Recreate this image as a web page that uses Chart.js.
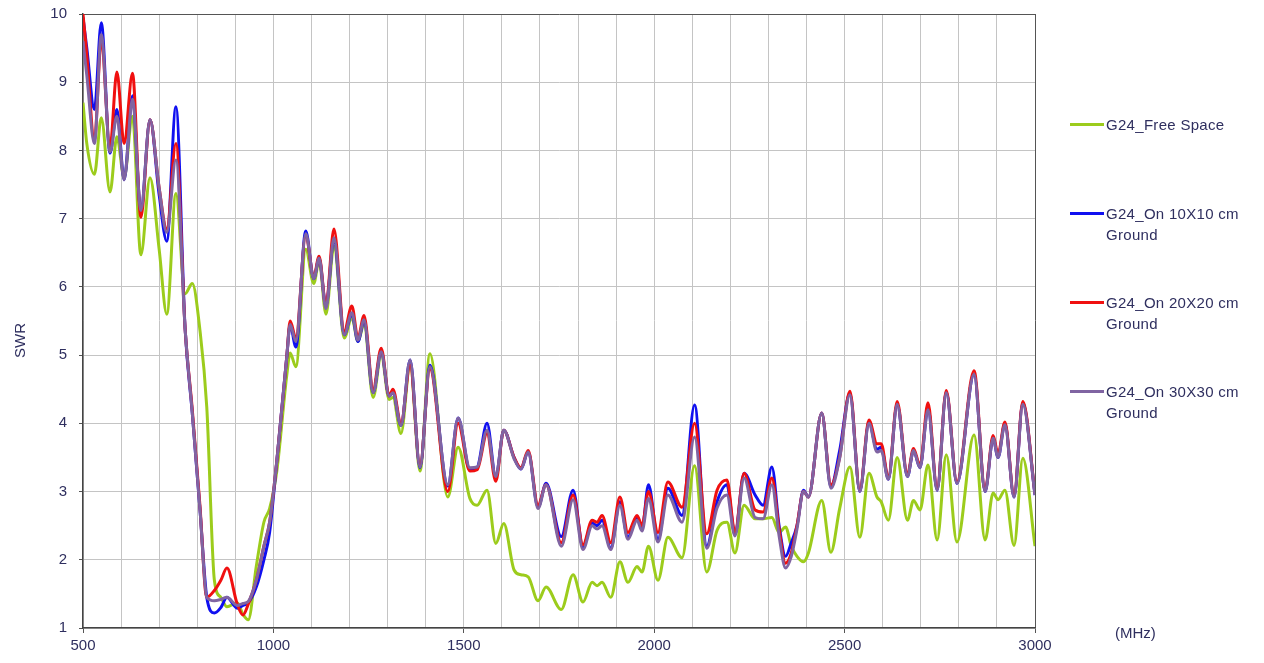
<!DOCTYPE html>
<html>
<head>
<meta charset="utf-8">
<script src="https://cdn.jsdelivr.net/npm/chart.js@4.4.1/dist/chart.umd.min.js"></script>
<style>
  body { margin: 0; background: #fff; font-family: "Liberation Sans", Arial, sans-serif; }
  #wrap { position: relative; width: 1264px; height: 663px; }
  .lbl { position: absolute; color: #2f2f5f; font-size: 15px; white-space: nowrap; }
  .leg { position: absolute; left: 1070px; width: 220px; }
  .leg i { position: absolute; left: 0; top: 9px; width: 34px; height: 3px; }
  .leg span { position: absolute; left: 36px; top: 0; line-height: 21px; color: #2f2f5f; font-size: 15px; letter-spacing: 0.3px; white-space: nowrap; }
</style>
</head>
<body>
<div id="wrap">
  <canvas id="swrChart" width="1264" height="663"></canvas>
  <div class="lbl" style="left:2px; top:332px; transform: rotate(-90deg);">SWR</div>
  <div class="lbl" style="left:1115px; top:624px;">(MHz)</div>
  <div id="legend"></div>
</div>
<script>
// frequency points (MHz) picked at peaks / troughs of the traces
const freqMHz = [
  500, 510, 530, 548, 571, 589, 608, 630, 652, 676,
  700, 720, 744, 768, 787, 807, 825, 845, 862, 878,
  905, 920, 934, 955, 975, 990, 1009, 1035, 1044, 1059,
  1085, 1106, 1120, 1138, 1159, 1186, 1206, 1222, 1238, 1262,
  1283, 1304, 1314, 1335, 1359, 1385, 1411, 1458, 1485, 1516,
  1535, 1561, 1584, 1605, 1632, 1650, 1669, 1695, 1716, 1756,
  1787, 1813, 1837, 1850, 1863, 1886, 1910, 1931, 1955,
  1968, 1985, 2010, 2036, 2073, 2106, 2138, 2165, 2191, 2212,
  2236, 2265, 2286, 2309, 2328, 2345, 2360, 2375, 2392, 2405,
  2440, 2464, 2487, 2514, 2540, 2564, 2585, 2596, 2615, 2638,
  2665, 2681, 2698, 2719, 2743, 2767, 2795, 2840, 2869, 2890,
  2903, 2921, 2945, 2968, 3000
];

const swrFreeSpace = [
  8.7, 8.1, 7.65, 8.48, 7.39, 8.2, 7.6, 8.5, 6.47, 7.6,
  6.55, 5.6, 7.37, 5.9, 6.05, 5.37, 4.24, 1.7, 1.45, 1.31,
  1.37, 1.2, 1.12, 1.9, 2.55, 2.75, 3.3, 4.7, 5.03, 4.83,
  6.55, 6.05, 6.38, 5.6, 6.6, 5.25, 5.55, 5.2, 5.45, 4.38,
  5.0, 4.35, 4.38, 3.85, 4.85, 3.3, 5.02, 2.92, 3.65, 2.9,
  2.8, 3.02, 2.24, 2.53, 1.85, 1.78, 1.75, 1.4, 1.6, 1.27,
  1.78, 1.38, 1.67, 1.62, 1.67, 1.45, 1.97, 1.67, 1.9,
  1.82, 2.2, 1.7, 2.33, 2.03, 3.38, 1.82, 2.43, 2.55, 2.1,
  2.8, 2.6, 2.6, 2.62, 2.4, 2.48, 2.2, 2.05, 1.97, 2.1,
  2.87, 2.11, 2.75, 3.36, 2.33, 3.27, 2.92, 2.85, 2.58, 3.5,
  2.58, 2.87, 2.73, 3.39, 2.29, 3.54, 2.26, 3.83, 2.29, 2.98,
  2.88, 3.02, 2.21, 3.49, 2.2
];

const swr10x10 = [
  9.95, 9.5, 8.6, 9.87, 7.96, 8.6, 7.57, 8.8, 7.12, 8.45,
  7.35, 6.67, 8.64, 5.4, 4.15, 2.75, 1.45, 1.22, 1.3, 1.45,
  1.29, 1.33, 1.37, 1.6, 2.0, 2.4, 3.45, 4.97, 5.45, 5.12,
  6.82, 6.12, 6.42, 5.72, 6.7, 5.3, 5.6, 5.2, 5.5, 4.45,
  5.05, 4.4, 4.45, 3.97, 4.93, 3.35, 4.85, 3.08, 4.08, 3.32,
  3.35, 4.0, 3.21, 3.9, 3.5, 3.33, 3.58, 2.77, 3.12, 2.34,
  3.02, 2.19, 2.54, 2.5, 2.58, 2.17, 2.85, 2.33, 2.63,
  2.45, 3.1, 2.3, 3.05, 2.65, 4.27, 2.2, 2.85, 3.1, 2.37,
  3.27, 2.95, 2.8, 3.36, 2.5, 2.05, 2.25, 2.5, 3.02, 2.92,
  4.15, 3.07, 3.6, 4.44, 3.0, 4.02, 3.62, 3.65, 3.18, 4.28,
  3.22, 3.6, 3.35, 4.22, 3.02, 4.46, 3.12, 4.72, 3.0, 3.78,
  3.5, 4.0, 2.92, 4.3, 2.95
];

const swr20x20 = [
  10.0, 9.4, 8.15, 9.6, 8.05, 9.15, 8.1, 9.13, 7.02, 8.45,
  7.45, 6.85, 8.1, 5.4, 4.2, 2.8, 1.45, 1.55, 1.7, 1.88,
  1.35, 1.19, 1.35, 1.7, 2.2, 2.55, 3.45, 4.97, 5.5, 5.25,
  6.75, 6.15, 6.45, 5.72, 6.85, 5.35, 5.72, 5.25, 5.58, 4.5,
  5.1, 4.4, 4.5, 4.0, 4.85, 3.38, 4.8, 3.0, 4.0, 3.3,
  3.32, 3.85, 3.15, 3.9, 3.5, 3.35, 3.6, 2.8, 3.1, 2.25,
  2.95, 2.22, 2.58, 2.55, 2.65, 2.25, 2.92, 2.4, 2.65,
  2.5, 3.0, 2.4, 3.14, 2.77, 4.0, 2.38, 3.02, 3.17, 2.4,
  3.27, 2.73, 2.7, 3.2, 2.45, 1.95, 2.1, 2.5, 3.0, 2.92,
  4.15, 3.1, 3.5, 4.47, 3.02, 4.05, 3.7, 3.7, 3.2, 4.32,
  3.25, 3.63, 3.38, 4.3, 3.04, 4.48, 3.14, 4.77, 3.02, 3.82,
  3.55, 4.02, 2.94, 4.32, 2.97
];

const swr30x30 = [
  9.6, 9.1, 8.1, 9.7, 7.98, 8.5, 7.57, 8.75, 7.12, 8.45,
  7.45, 6.8, 7.86, 5.4, 4.15, 2.75, 1.45, 1.4, 1.42, 1.45,
  1.33, 1.36, 1.39, 1.7, 2.2, 2.55, 3.45, 4.97, 5.45, 5.2,
  6.78, 6.12, 6.42, 5.68, 6.72, 5.3, 5.62, 5.22, 5.52, 4.45,
  5.05, 4.4, 4.45, 3.97, 4.93, 3.36, 4.83, 3.1, 4.08, 3.35,
  3.36, 3.9, 3.22, 3.9, 3.48, 3.33, 3.58, 2.75, 3.1, 2.2,
  2.88, 2.15, 2.5, 2.45, 2.5, 2.15, 2.8, 2.3, 2.58,
  2.42, 2.9, 2.26, 2.95, 2.55, 3.8, 2.17, 2.76, 2.95, 2.35,
  3.2, 2.62, 2.6, 3.1, 2.35, 1.88, 2.05, 2.45, 3.0, 2.92,
  4.15, 3.05, 3.49, 4.42, 3.0, 4.0, 3.58, 3.6, 3.18, 4.28,
  3.22, 3.6, 3.35, 4.2, 3.02, 4.45, 3.12, 4.72, 3.0, 3.78,
  3.5, 3.98, 2.92, 4.28, 2.95
];

const seriesNames = ['G24_Free Space', 'G24_On 10X10 cm\nGround', 'G24_On 20X20 cm\nGround', 'G24_On 30X30 cm\nGround'];
const seriesColors = ['#9ccc1c', '#1010f0', '#f01010', '#8064a2'];
const seriesValues = [swrFreeSpace, swr10x10, swr20x20, swr30x30];

const textColor = '#2f2f5f';
const font = { family: '"Liberation Sans", Arial, sans-serif', size: 15 };

// green at the bottom, purple on top
const datasets = seriesValues.map((vals, i) => ({
  label: seriesNames[i],
  data: freqMHz.map((f, k) => ({ x: f, y: vals[k] })),
  borderColor: seriesColors[i],
  borderWidth: 3,
  pointRadius: 0,
  fill: false,
  cubicInterpolationMode: 'monotone',
  order: 4 - i,
}));

new Chart(document.getElementById('swrChart'), {
  type: 'line',
  data: { datasets },
  options: {
    responsive: false,
    animation: false,
    layout: { padding: { left: 0, right: 229, top: 14, bottom: 0 } },
    plugins: { legend: { display: false }, tooltip: { enabled: false } },
    scales: {
      x: {
        type: 'linear',
        min: 500,
        max: 3000,
        ticks: {
          stepSize: 100,
          autoSkip: false,
          maxRotation: 0,
          color: textColor,
          font,
          padding: 4,
          callback: (v) => (v % 500 === 0 ? v : ''),
        },
        grid: {
          color: (c) => (c.tick && c.tick.value === 3000 ? '#555' : '#c4c4c4'),
          tickLength: 5,
          tickColor: (c) => (c.tick && c.tick.value % 500 === 0 ? '#555' : 'rgba(0,0,0,0)'),
        },
        border: { color: '#444', width: 1.5 },
        afterFit: (s) => { s.height = 35; s.paddingLeft = 0; s.paddingRight = 0; },
      },
      y: {
        min: 1,
        max: 10,
        ticks: { stepSize: 1, color: textColor, font, padding: 12 },
        grid: {
          color: (c) => (c.tick && c.tick.value === 10 ? '#555' : '#c4c4c4'),
          tickLength: 4,
          tickColor: '#555',
        },
        border: { color: '#444', width: 1.5 },
        afterFit: (s) => { s.width = 83; s.paddingTop = 0; s.paddingBottom = 0; },
      },
    },
  },
});

// legend on the right, drawn as html
const legendTops = [114, 203, 292, 381];
const legendEl = document.getElementById('legend');
seriesNames.forEach((name, i) => {
  const item = document.createElement('div');
  item.className = 'leg';
  item.style.top = legendTops[i] + 'px';
  const line = document.createElement('i');
  line.style.background = seriesColors[i];
  const txt = document.createElement('span');
  txt.innerHTML = name.replace('\n', '<br>');
  item.appendChild(line);
  item.appendChild(txt);
  legendEl.appendChild(item);
});
</script>
</body>
</html>
